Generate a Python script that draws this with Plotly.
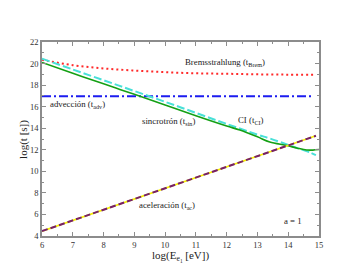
import plotly.graph_objects as go

# Data (log E in eV, log t in s)
e_brem = [6, 7, 8, 9, 10, 11, 12, 13, 14, 14.9]
t_brem = [20.35, 19.85, 19.55, 19.35, 19.2, 19.1, 19.05, 19.0, 18.97, 18.95]

e_adv = [6, 14.8]
t_adv = [16.97, 16.97]

e_sin = [6, 7, 8, 8.53, 9, 10, 11, 12, 12.43, 13, 13.4, 13.95, 14.3, 14.6, 14.8, 15]
t_sin = [20.1, 19.1, 18.12, 17.6, 17.15, 16.15, 15.15, 14.2, 13.83, 13.2, 12.72, 12.4, 12.15, 11.98, 11.97, 12.02]

e_ci = [6, 7, 8, 9, 10, 11, 12, 13, 13.4, 14, 14.4, 14.7, 14.9]
t_ci = [20.45, 19.45, 18.45, 17.45, 16.45, 15.42, 14.4, 13.4, 13.05, 12.45, 12.05, 11.76, 11.5]

e_acc = [6, 14.9]
t_acc = [4.45, 13.3]

x_ticks = [6, 7, 8, 9, 10, 11, 12, 13, 14, 15]
y_ticks = [4, 6, 8, 10, 12, 14, 16, 18, 20, 22]

FONT = "Liberation Serif"

fig = go.Figure()
fig.add_trace(go.Scatter(x=e_brem, y=t_brem, mode="lines",
                         line=dict(color="#ff2a2a", width=2, dash="2px,3px"), line_shape="spline"))
fig.add_trace(go.Scatter(x=e_adv, y=t_adv, mode="lines",
                         line=dict(color="#1c1cf0", width=2, dash="9px,3px,2px,3px")))
fig.add_trace(go.Scatter(x=e_ci, y=t_ci, mode="lines",
                         line=dict(color="#48e0d8", width=2, dash="8px,3px"), line_shape="spline"))
fig.add_trace(go.Scatter(x=e_sin, y=t_sin, mode="lines",
                         line=dict(color="#14a014", width=1.6), line_shape="spline"))
fig.add_trace(go.Scatter(x=e_acc, y=t_acc, mode="lines",
                         line=dict(color="#f5f000", width=1.6)))
fig.add_trace(go.Scatter(x=e_acc, y=t_acc, mode="lines",
                         line=dict(color="#76206a", width=2, dash="6px,3px")))

ann_font = dict(family=FONT, size=8.8, color="#222222")
annots = [
    (11.95, 20.1, "Bremsstrahlung (t<sub>Brem</sub>)"),
    (7.15, 16.2, "advección (t<sub>adv</sub>)"),
    (10.1, 14.65, "sincrotrón (t<sub>sin</sub>)"),
    (12.8, 14.75, "CI (t<sub>CI</sub>)"),
    (10.05, 6.85, "aceleración (t<sub>ac</sub>)"),
    (14.15, 5.4, "a = 1"),
]
for x, y, t in annots:
    fig.add_annotation(x=x, y=y, text=t, showarrow=False, font=ann_font,
                       xanchor="center", yanchor="middle")

title_font = dict(family=FONT, size=11, color="#222222")
fig.add_annotation(xref="paper", yref="paper", x=0.5, y=-0.108,
                   text="log(E<sub>e<sub>1</sub></sub> [eV])", showarrow=False,
                   font=title_font, xanchor="center", yanchor="middle")
fig.add_annotation(xref="paper", yref="paper", x=-0.069, y=0.5,
                   text="log(t [s])", showarrow=False, textangle=-90,
                   font=title_font, xanchor="center", yanchor="middle")

axis_common = dict(showline=True, linecolor="#8c8c8c", linewidth=1.5, mirror="ticks",
                   ticks="inside", ticklen=4, tickwidth=1, tickcolor="#8c8c8c",
                   showgrid=False, zeroline=False,
                   tickfont=dict(family=FONT, size=8.5, color="#333333"))

fig.update_xaxes(range=[6, 15], tickvals=x_ticks, ticktext=[str(v) for v in x_ticks],
                 minor=dict(dtick=0.5, tick0=6, ticks="inside", ticklen=2, tickcolor="#8c8c8c"),
                 **axis_common)
fig.update_yaxes(range=[4, 22], tickvals=y_ticks, ticktext=[str(v) for v in y_ticks],
                 minor=dict(dtick=1, tick0=4, ticks="inside", ticklen=2, tickcolor="#8c8c8c"),
                 **axis_common)

# page body has an 8px margin, so the figure is shrunk and offset accordingly
fig.update_layout(width=351, height=270, showlegend=False,
                  margin=dict(l=34, r=40, t=34, b=42),
                  paper_bgcolor="white", plot_bgcolor="white")

fig.write_html("out.html")
